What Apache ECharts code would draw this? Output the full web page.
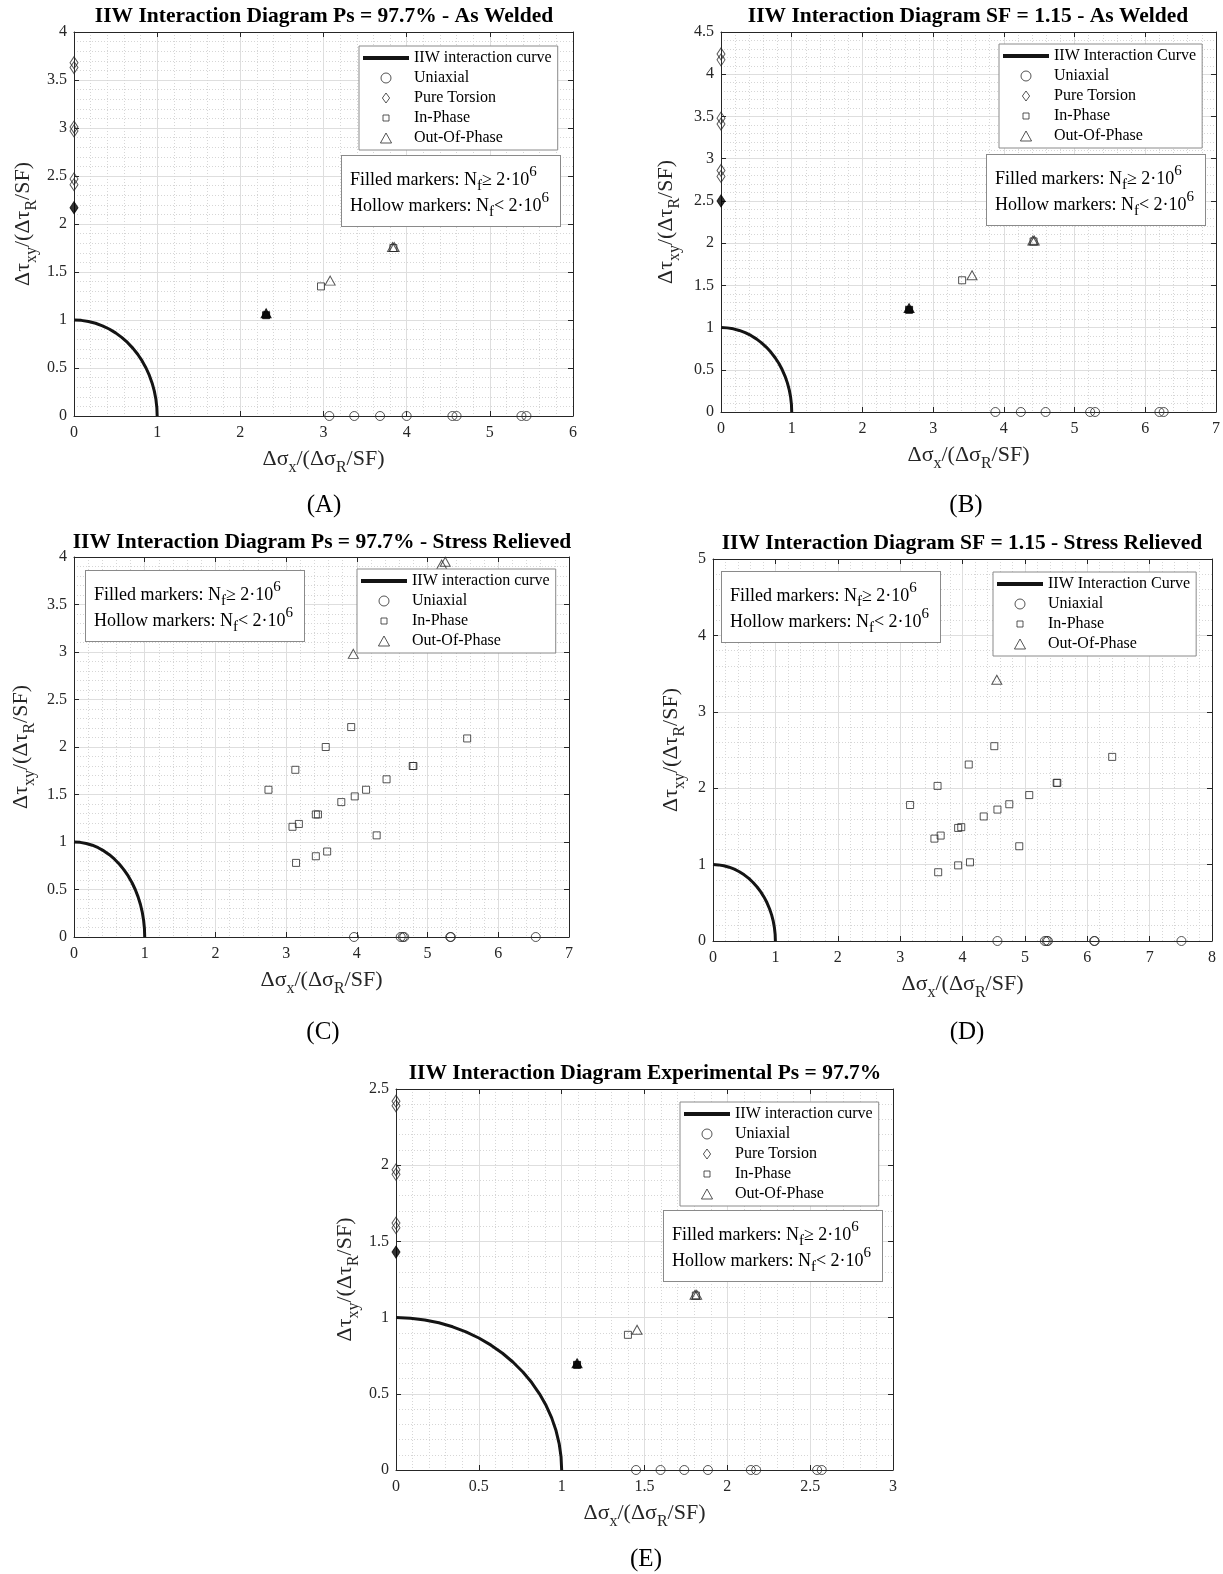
<!DOCTYPE html>
<html><head><meta charset="utf-8">
<script src="https://cdn.jsdelivr.net/npm/echarts@6/dist/echarts.min.js"></script>
<style>html,body{margin:0;padding:0;background:#fff}#c{width:1223px;height:1574px}</style>
</head><body><div id="c"></div>
<script>
// ---------- IIW interaction curve (quarter circle, points every 5 deg) ----------
const curveX = [1, 0.9962, 0.9848, 0.9659, 0.9397, 0.9063, 0.8660, 0.8192, 0.7660, 0.7071, 0.6428, 0.5736, 0.5, 0.4226, 0.3420, 0.2588, 0.1736, 0.0872, 0];
const curveY = [0, 0.0872, 0.1736, 0.2588, 0.3420, 0.4226, 0.5, 0.5736, 0.6428, 0.7071, 0.7660, 0.8192, 0.8660, 0.9063, 0.9397, 0.9659, 0.9848, 0.9962, 1];

// ---------- Panel A: Ps = 97.7% - As Welded ----------
const uniX_A = [3.07, 3.37, 3.68, 4.00, 4.55, 4.60, 5.38, 5.44];
const torY_A = [3.68, 3.63, 3.01, 2.97, 2.47, 2.41];
const torFilledY_A = [2.17];
const inX_A = [2.97, 3.84];
const inY_A = [1.35, 1.75];
const outX_A = [3.08, 3.83, 3.85];
const outY_A = [1.41, 1.76, 1.76];
const inFilledX_A = [2.31];
const inFilledY_A = [1.05];
const outFilledX_A = [2.31];
const outFilledY_A = [1.07];

// ---------- Panel B: SF = 1.15 - As Welded ----------
const uniX_B = [3.88, 4.24, 4.59, 5.22, 5.29, 6.20, 6.26];
const torY_B = [4.24, 4.17, 3.48, 3.41, 2.86, 2.79];
const torFilledY_B = [2.50];
const inX_B = [3.41, 4.42];
const inY_B = [1.56, 2.02];
const outX_B = [3.55, 4.41, 4.43];
const outY_B = [1.62, 2.03, 2.03];
const inFilledX_B = [2.66];
const inFilledY_B = [1.21];
const outFilledX_B = [2.66];
const outFilledY_B = [1.23];

// ---------- Panel C: Ps = 97.7% - Stress Relieved ----------
const uniX_C = [3.96, 4.62, 4.65, 4.67, 5.32, 5.33, 6.53];
const inX_C = [3.92, 3.56, 5.56, 3.13, 4.79, 4.80, 4.42, 2.75, 4.13, 3.97, 3.78, 3.42, 3.45, 3.09, 3.18, 4.28, 3.58, 3.42, 3.14];
const inY_C = [2.21, 2.00, 2.09, 1.76, 1.80, 1.80, 1.66, 1.55, 1.55, 1.48, 1.42, 1.29, 1.29, 1.16, 1.19, 1.07, 0.90, 0.85, 0.78];
const outX_C = [3.95, 5.20, 5.25];
const outY_C = [2.98, 3.92, 3.95];

// ---------- Panel D: SF = 1.15 - Stress Relieved ----------
const uniX_D = [4.56, 5.32, 5.35, 5.37, 6.11, 6.12, 7.51];
const inX_D = [4.51, 4.10, 6.40, 3.60, 5.51, 5.52, 5.07, 3.16, 4.75, 4.56, 4.34, 3.93, 3.98, 3.55, 3.65, 4.91, 4.12, 3.93, 3.61];
const inY_D = [2.55, 2.31, 2.41, 2.03, 2.07, 2.07, 1.91, 1.78, 1.79, 1.72, 1.63, 1.48, 1.49, 1.34, 1.38, 1.24, 1.03, 0.99, 0.90];
const outX_D = [4.55];
const outY_D = [3.42];

// ---------- Panel E: Experimental Ps = 97.7% ----------
const uniX_E = [1.449, 1.597, 1.740, 1.883, 2.142, 2.174, 2.542, 2.570];
const torY_E = [2.42, 2.39, 1.97, 1.94, 1.62, 1.59];
const torFilledY_E = [1.43];
const inX_E = [1.40, 1.81];
const inY_E = [0.887, 1.145];
const outX_E = [1.455, 1.805, 1.815];
const outY_E = [0.92, 1.15, 1.15];
const inFilledX_E = [1.093];
const inFilledY_E = [0.69];
const outFilledX_E = [1.093];
const outFilledY_E = [0.70];

// ---------- Titles & labels ----------
const titles = [
  'IIW Interaction Diagram Ps = 97.7% - As Welded',
  'IIW Interaction Diagram SF = 1.15 - As Welded',
  'IIW Interaction Diagram Ps = 97.7% - Stress Relieved',
  'IIW Interaction Diagram SF = 1.15 - Stress Relieved',
  'IIW Interaction Diagram Experimental Ps = 97.7%'
];
const letters = ['(A)', '(B)', '(C)', '(D)', '(E)'];
const curveNames = ['IIW interaction curve', 'IIW Interaction Curve', 'IIW interaction curve', 'IIW Interaction Curve', 'IIW interaction curve'];

// ---------- build ----------
const FONT = '"Liberation Serif", "Times New Roman", serif';
const INK = '#262626';
const zip = (xs, ys) => xs.map((x, i) => [x, ys[i]]);

const panels = [
  { grid: {left: 74, top: 32, width: 499, height: 384}, xMax: 6, xInt: 1, yMax: 4, yInt: 0.5,
    title: [324, 16], letter: [324, 505], yNameGap: 34, xNameGap: 26,
    legend: {left: 359, top: 46}, note: [342, 156],
    uni: uniX_A, tor: torY_A, torF: torFilledY_A, inP: zip(inX_A, inY_A), outP: zip(outX_A, outY_A),
    inF: zip(inFilledX_A, inFilledY_A), outF: zip(outFilledX_A, outFilledY_A) },
  { grid: {left: 721, top: 32, width: 495, height: 380}, xMax: 7, xInt: 1, yMax: 4.5, yInt: 0.5,
    title: [968, 16], letter: [966, 505], yNameGap: 38, xNameGap: 26,
    legend: {left: 999, top: 44}, note: [987, 155],
    uni: uniX_B, tor: torY_B, torF: torFilledY_B, inP: zip(inX_B, inY_B), outP: zip(outX_B, outY_B),
    inF: zip(inFilledX_B, inFilledY_B), outF: zip(outFilledX_B, outFilledY_B) },
  { grid: {left: 74, top: 557, width: 495, height: 380}, xMax: 7, xInt: 1, yMax: 4, yInt: 0.5,
    title: [322, 542], letter: [323, 1032], yNameGap: 36, xNameGap: 26,
    legend: {left: 357, top: 569}, note: [86, 571],
    uni: uniX_C, tor: null, torF: null, inP: zip(inX_C, inY_C), outP: zip(outX_C, outY_C), inF: null, outF: null },
  { grid: {left: 713, top: 559, width: 499, height: 382}, xMax: 8, xInt: 1, yMax: 5, yInt: 1,
    title: [962, 543], letter: [967, 1032], yNameGap: 25, xNameGap: 26,
    legend: {left: 993, top: 572}, note: [722, 572],
    uni: uniX_D, tor: null, torF: null, inP: zip(inX_D, inY_D), outP: zip(outX_D, outY_D), inF: null, outF: null },
  { grid: {left: 396, top: 1089, width: 497, height: 381}, xMax: 3, xInt: 0.5, yMax: 2.5, yInt: 0.5,
    title: [645, 1073], letter: [646, 1559], yNameGap: 34, xNameGap: 26,
    legend: {left: 680, top: 1102}, note: [664, 1211],
    uni: uniX_E, tor: torY_E, torF: torFilledY_E, inP: zip(inX_E, inY_E), outP: zip(outX_E, outY_E),
    inF: zip(inFilledX_E, inFilledY_E), outF: zip(outFilledX_E, outFilledY_E) }
];

const SYM = {
  circle: {symbol: 'circle', size: 9},
  diamond: {symbol: 'diamond', size: [8, 12]},
  square: {symbol: 'rect', size: 7},
  triangle: {symbol: 'triangle', size: [10, 9]}
};
const hollowStyle = {color: 'rgba(0,0,0,0)', borderColor: '#2a2a2a', borderWidth: 1};
const filledStyle = {color: '#000', borderColor: '#000', borderWidth: 1};

const grids = [], xAxes = [], yAxes = [], series = [], legends = [], graphics = [];

const mainText = {fontFamily: FONT, fontSize: 22, color: INK};
const subText = {fontFamily: FONT, fontSize: 16, color: INK, padding: [18, 0, 0, 0]};

panels.forEach((p, i) => {
  grids.push(Object.assign({containLabel: false}, p.grid));
  const xCommon = {gridIndex: i, type: 'value', min: 0, max: p.xMax, interval: p.xInt};
  const yCommon = {gridIndex: i, type: 'value', min: 0, max: p.yMax, interval: p.yInt};
  xAxes.push(Object.assign({}, xCommon, {
    position: 'bottom',
    name: '{m|Δσ}{s|x}{m|/(Δσ}{s|R}{m|/SF)}', nameLocation: 'middle', nameGap: p.xNameGap,
    nameTextStyle: {fontFamily: FONT, fontSize: 22, color: INK, rich: {m: mainText, s: subText}},
    axisLine: {show: true, onZero: false, lineStyle: {color: INK, width: 1}},
    axisTick: {show: true, inside: true, length: 5, lineStyle: {color: INK}},
    axisLabel: {fontFamily: FONT, fontSize: 16, color: INK, margin: 9},
    splitLine: {show: true, lineStyle: {color: '#dedede', width: 1}},
    minorTick: {show: false, splitNumber: 5},
    minorSplitLine: {show: true, lineStyle: {color: '#d6d6d6', width: 1, type: [1, 2]}}
  }));
  xAxes.push(Object.assign({}, xCommon, {
    position: 'top',
    axisLine: {show: true, onZero: false, lineStyle: {color: INK, width: 1}},
    axisTick: {show: true, inside: true, length: 5, lineStyle: {color: INK}},
    axisLabel: {show: false}, splitLine: {show: false}
  }));
  yAxes.push(Object.assign({}, yCommon, {
    position: 'left',
    name: '{m|Δτ}{s|xy}{m|/(Δτ}{s|R}{m|/SF)}', nameLocation: 'middle', nameGap: p.yNameGap, nameRotate: 90,
    nameTextStyle: {fontFamily: FONT, fontSize: 22, color: INK, rich: {m: mainText, s: subText}},
    axisLine: {show: true, onZero: false, lineStyle: {color: INK, width: 1}},
    axisTick: {show: true, inside: true, length: 5, lineStyle: {color: INK}},
    axisLabel: {fontFamily: FONT, fontSize: 16, color: INK, margin: 7},
    splitLine: {show: true, lineStyle: {color: '#dedede', width: 1}},
    minorTick: {show: false, splitNumber: 5},
    minorSplitLine: {show: true, lineStyle: {color: '#d6d6d6', width: 1, type: [1, 2]}}
  }));
  yAxes.push(Object.assign({}, yCommon, {
    position: 'right',
    axisLine: {show: true, onZero: false, lineStyle: {color: INK, width: 1}},
    axisTick: {show: true, inside: true, length: 5, lineStyle: {color: INK}},
    axisLabel: {show: false}, splitLine: {show: false}
  }));

  const ax = {xAxisIndex: 2 * i, yAxisIndex: 2 * i};
  const sc = (name, sym, data, filled) => Object.assign({
    type: 'scatter', name: name, symbol: SYM[sym].symbol, symbolSize: SYM[sym].size,
    data: data, clip: false, silent: true, z: 4,
    itemStyle: filled ? filledStyle : hollowStyle,
    emphasis: {disabled: true}
  }, ax);

  series.push(Object.assign({
    type: 'line', name: curveNames[i], data: zip(curveX, curveY), symbol: 'none', silent: true, z: 3,
    lineStyle: {color: '#141414', width: 3}, itemStyle: {color: '#141414'}, emphasis: {disabled: true}
  }, ax));
  series.push(sc('Uniaxial', 'circle', p.uni.map(x => [x, 0]), false));
  if (p.tor) series.push(sc('Pure Torsion', 'diamond', p.tor.map(y => [0, y]), false));
  if (p.torF) series.push(sc('Pure Torsion (filled)', 'diamond', p.torF.map(y => [0, y]), true));
  series.push(sc('In-Phase', 'square', p.inP, false));
  series.push(sc('Out-Of-Phase', 'triangle', p.outP, false));
  if (p.inF) series.push(sc('In-Phase (filled)', 'square', p.inF, true));
  if (p.outF) series.push(sc('Out-Of-Phase (filled)', 'triangle', p.outF, true));

  const lData = [
    {name: curveNames[i], icon: 'path://M0,0H48V4H0Z', itemStyle: {color: '#141414', borderWidth: 0}},
    {name: 'Uniaxial', icon: 'circle', itemStyle: hollowStyle}
  ];
  if (p.tor) lData.push({name: 'Pure Torsion', icon: 'path://M4,0L8,5.5L4,11L0,5.5Z', itemStyle: hollowStyle});
  lData.push({name: 'In-Phase', icon: 'path://M0,0M10,10M2,2H8V8H2Z', itemStyle: hollowStyle});
  lData.push({name: 'Out-Of-Phase', icon: 'path://M5,0L10,9L0,9Z', itemStyle: hollowStyle});
  legends.push({
    orient: 'vertical', left: p.legend.left, top: p.legend.top, itemGap: 0, itemWidth: 46, itemHeight: 10,
    padding: [2, 6, 2, 4], borderColor: '#8a8a8a', borderWidth: 1, backgroundColor: '#fff',
    selectedMode: false, z: 5,
    textStyle: {fontFamily: FONT, fontSize: 16, color: '#000', lineHeight: 20},
    data: lData
  });

  graphics.push({
    type: 'text', x: p.title[0], y: p.title[1], z: 10,
    style: {text: titles[i], font: 'bold 21.5px ' + FONT, fill: '#000', align: 'center', verticalAlign: 'middle'}
  });
  graphics.push({
    type: 'text', x: p.letter[0], y: p.letter[1], z: 10,
    style: {text: letters[i], font: '25px ' + FONT, fill: '#000', align: 'center', verticalAlign: 'middle'}
  });
  graphics.push({
    type: 'text', x: p.note[0], y: p.note[1], z: 10,
    style: {
      text: '{t|Filled markers: N}{s|f}{t|≥ 2·10}{p|6}\n{t|Hollow markers: N}{s|f}{t|< 2·10}{p|6}',
      font: '18px ' + FONT, fill: '#000', align: 'left', verticalAlign: 'top',
      lineHeight: 26, width: 201,
      backgroundColor: '#fff', borderColor: '#8a8a8a', borderWidth: 1, padding: [11, 9, 7, 8],
      rich: {
        t: {font: '18px ' + FONT, fill: '#000', lineHeight: 26},
        s: {font: '15px ' + FONT, fill: '#000', padding: [13, 0, 0, 0], lineHeight: 26},
        p: {font: '15px ' + FONT, fill: '#000', padding: [0, 0, 15, 0], lineHeight: 26}
      }
    }
  });
});

const chart = echarts.init(document.getElementById('c'), null, {renderer: 'canvas'});
chart.setOption({
  animation: false,
  backgroundColor: '#fff',
  grid: grids, xAxis: xAxes, yAxis: yAxes,
  legend: legends, series: series, graphic: graphics
});
</script></body></html>
